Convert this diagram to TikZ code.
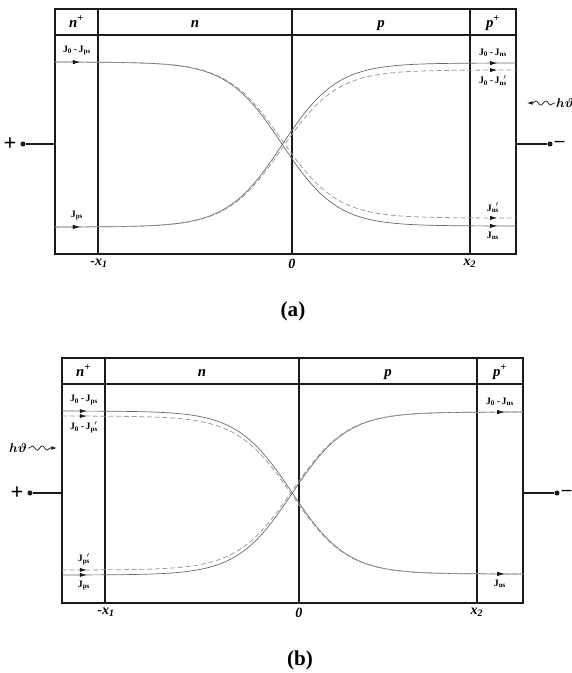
\documentclass[tikz,border=0pt]{standalone}
\usepackage{amsmath,amssymb}
\usepackage{fontspec}
\setmainfont{Liberation Serif}
\usepackage{xcolor}
\usepackage{tikz}
\usetikzlibrary{arrows.meta,positioning,calc,decorations.markings,decorations.pathmorphing}
\definecolor{ink}{HTML}{1A1A1A}
\definecolor{solidgray}{HTML}{6A6A6A}
\definecolor{dashgray}{HTML}{9A9A9A}
\newcommand{\Jflux}[1]{J\textsubscript{#1}}
\newcommand{\Jfluxp}[1]{J\textsubscript{#1}\llap{\textsuperscript{$\prime$}}}
\newcommand{\Jdrift}[1]{J\textsubscript{0}\,-\,\Jflux{#1}}
\newcommand{\Jdriftp}[1]{J\textsubscript{0}\,-\,\Jfluxp{#1}}
\newcommand{\hvphoton}{$\boldsymbol{h\vartheta}$}
% one current profile across the junction: style, left level, right level, centre
\newcommand{\profile}[4]{\draw[#1] plot[domain=55:516,samples=120] (\x,{#2+(#3-#2)*(1+tanh((\x-#4)/55))/2});}
% box, regions, axis marks and contacts of one panel
\newcommand{\junction}[2]{%
  \draw[wall] (55,9) rectangle (516,254);
  \draw[wall] (55,35) -- (516,35);
  \foreach \xb in {98,292,470} \draw[divider] (\xb,9) -- (\xb,254);
  \node[region] (#1-nplus) at (76.5,27) {n\textsuperscript{+}};
  \node[region] (#1-n) at (195,27) {n};
  \node[region] (#1-p) at (381,27) {p};
  \node[region] (#1-pplus) at (493,27) {p\textsuperscript{+}};
  \node[axislbl] (#1-x1) at (99,258.5) {-x\textsubscript{1}};
  \node[axislbl] (#1-zero) at (292,258.5) {0};
  \node[axislbl] (#1-x2) at (470,258.5) {x\textsubscript{2}};
  \node[dot] (#1-ldot) at (23,144) {};
  \node[sign] (#1-plus) at (10,144) {+};
  \coordinate (#1-lwall) at (55,144);
  \draw[lead] (#1-ldot) -- (#1-lwall);
  \node[dot] (#1-rdot) at (550,144) {};
  \node[sign,font=\fontsize{13.5}{16}\selectfont\bfseries] (#1-minus) at (559.5,144) {–};
  \coordinate (#1-rwall) at (516,144);
  \draw[lead] (#1-rwall) -- (#1-rdot);
  \node[panelcap] (#1-cap) at (293,311) {#2};
}

\begin{document}
\begin{tikzpicture}[x=0.025cm,y=-0.025cm]
    \tikzset{
      wall/.style={draw=ink,line width=1.1pt},
      divider/.style={draw=ink,line width=0.8pt},
      lead/.style={draw=ink,line width=0.8pt},
      dot/.style={circle,fill=ink,inner sep=0pt,minimum size=3.6pt},
      sign/.style={inner sep=0pt,font=\fontsize{16}{18}\selectfont\bfseries},
      region/.style={anchor=base,inner sep=0pt,font=\fontsize{10.5}{12}\selectfont\bfseries\itshape},
      axislbl/.style={anchor=north,inner sep=0pt,font=\fontsize{10}{12}\selectfont\bfseries\itshape},
      panelcap/.style={inner sep=0pt,font=\fontsize{15}{18}\selectfont\bfseries},
      flux/.style={inner sep=0pt,font=\fontsize{7}{8}\selectfont\bfseries},
      photonlbl/.style={inner sep=0.5pt,font=\fontsize{9}{10}\selectfont},
      flowtip/.tip={Latex[length=5pt,width=3pt,color=ink]},
      flow/.style={postaction={decorate},decoration={markings,
          mark=at position 0.62cm with {\arrow{flowtip}},
          mark=at position -0.47cm with {\arrow{flowtip}}}},
      solidc/.style={draw=solidgray,line width=0.5pt},
      dashc/.style={draw=dashgray,line width=0.55pt,dash pattern=on 3.5pt off 2pt},
      photon/.style={draw=ink,line width=0.5pt,decorate,
          decoration={snake,amplitude=1.5pt,segment length=7pt,pre length=1pt,post length=4pt},
          -{Latex[length=4pt,width=2.6pt]}}
    }
    \useasboundingbox (0,0) rectangle (572,673);
    % (a) light falls on the p+ side
    \junction{a}{(a)}
    \profile{solidc,flow}{62}{226}{282}
    \profile{dashc,flow}{62}{218}{282}
    \profile{solidc,flow}{227}{63}{282}
    \profile{dashc,flow}{227}{70}{282}
    \coordinate (a-lt) at (77,62);
    \coordinate (a-lb) at (77,227);
    \coordinate (a-rt) at (493,63);
    \coordinate (a-rtd) at (493,70);
    \coordinate (a-rbd) at (493,218);
    \coordinate (a-rb) at (493,226);
    \node[flux,above=1.6mm of a-lt] (a-j0jps) {\Jdrift{ps}};
    \node[flux,above=1.6mm of a-lb] (a-jps) {\Jflux{ps}};
    \node[flux,above=1.5mm of a-rt] (a-j0jns) {\Jdrift{ns}};
    \node[flux,below=1.3mm of a-rtd] (a-j0jnsp) {\Jdriftp{ns}};
    \node[flux,above=1.3mm of a-rbd] (a-jnsp) {\Jfluxp{ns}};
    \node[flux,below=1.4mm of a-rb] (a-jns) {\Jflux{ns}};
    \node[photonlbl] (a-hv) at (565,103) {\hvphoton};
    \coordinate (a-hvtip) at (527,103);
    \draw[photon] (a-hv) -- (a-hvtip);
    % (b) light falls on the n+ side
    \begin{scope}[shift={(7,349)}]
      \junction{b}{(b)}
      \profile{solidc,flow}{62}{225}{285}
      \profile{dashc,flow}{67}{225}{285}
      \profile{solidc,flow}{226}{63}{285}
      \profile{dashc,flow}{221}{63}{285}
      \coordinate (b-lt) at (77,62);
      \coordinate (b-ltd) at (77,67);
      \coordinate (b-lbd) at (77,221);
      \coordinate (b-lb) at (77,226);
      \coordinate (b-rt) at (493,63);
      \coordinate (b-rb) at (493,225);
      \node[flux,above=1.5mm of b-lt] (b-j0jps) {\Jdrift{ps}};
      \node[flux,below=1.3mm of b-ltd] (b-j0jpsp) {\Jdriftp{ps}};
      \node[flux,above=1.3mm of b-lbd] (b-jpsp) {\Jfluxp{ps}};
      \node[flux,below=1.4mm of b-lb] (b-jps) {\Jflux{ps}};
      \node[flux,above=1.5mm of b-rt] (b-j0jns) {\Jdrift{ns}};
      \node[flux,below=1.4mm of b-rb] (b-jns) {\Jflux{ns}};
      \node[photonlbl] (b-hv) at (11,99) {\hvphoton};
      \coordinate (b-hvtip) at (50,99);
      \draw[photon] (b-hv) -- (b-hvtip);
    \end{scope}
  \end{tikzpicture}
\end{document}
